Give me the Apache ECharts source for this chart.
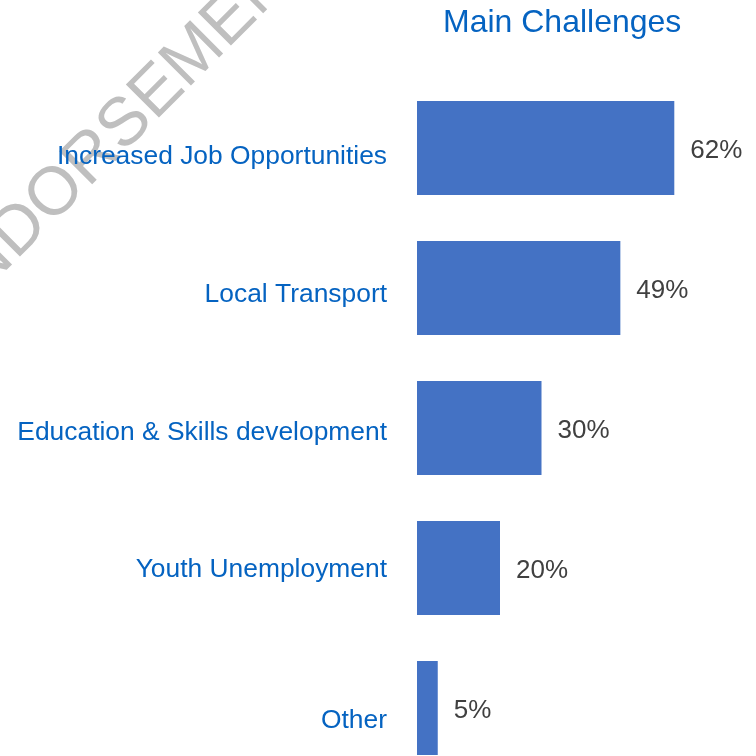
<!DOCTYPE html>
<html>
<head>
<meta charset="utf-8">
<script src="https://cdn.jsdelivr.net/npm/echarts@6/dist/echarts.min.js"></script>
<style>
  html, body { margin: 0; padding: 0; background: #ffffff; overflow: hidden; }
  /* the canvas runs past the bottom of the window so the last bar is cut off */
  #chart { width: 756px; height: 800px; }
</style>
</head>
<body>
<div id="chart"></div>
<script>
// Survey answers, percent of respondents
const chartTitle = 'Main Challenges';
const categories = [
  'Increased Job Opportunities',
  'Local Transport',
  'Education & Skills development',
  'Youth Unemployment',
  'Other'
];
const shares = [62, 49, 30, 20, 5];
const watermarkText = 'ENDORSEMENT';

const FONT = '"Liberation Sans", Arial, sans-serif';
const BLUE_TEXT = '#0563C1';
const BAR_BLUE = '#4472C4';

// small downward nudges (px) for the hand-placed category captions
const captionShift = [9, 7, 5, 2, 13];
const captionRich = {};
captionShift.forEach((d, i) => {
  captionRich['c' + i] = {
    fontFamily: FONT,
    fontSize: 26.4,
    color: BLUE_TEXT,
    padding: [d * 2, 0, 0, 0]
  };
});

const chart = echarts.init(document.getElementById('chart'), null, { renderer: 'canvas' });

chart.setOption({
  animation: false,
  backgroundColor: '#ffffff',
  title: {
    text: chartTitle,
    left: 443,
    top: 7,
    padding: 0,
    textStyle: { fontFamily: FONT, fontSize: 32, fontWeight: 'normal', color: BLUE_TEXT }
  },
  grid: {
    left: 417,
    top: 78,
    width: 332,
    height: 700,
    containLabel: false
  },
  xAxis: {
    type: 'value',
    min: 0,
    max: 80,
    show: false
  },
  yAxis: {
    type: 'category',
    data: categories,
    inverse: true,
    axisLine: { show: false },
    axisTick: { show: false },
    splitLine: { show: false },
    axisLabel: {
      margin: 30,
      fontFamily: FONT,
      fontSize: 26.4,
      color: BLUE_TEXT,
      formatter: (value, index) => '{c' + index + '|' + value + '}',
      rich: captionRich
    }
  },
  series: [{
    type: 'bar',
    data: shares,
    barCategoryGap: '33%',
    itemStyle: { color: BAR_BLUE },
    label: {
      show: true,
      position: 'right',
      distance: 16,
      offset: [0, 3],
      fontFamily: FONT,
      fontSize: 26,
      color: '#404040',
      formatter: p => p.value + '%'
    }
  }],
  graphic: [{
    type: 'text',
    x: 123,
    y: 127,
    rotation: Math.PI / 4,
    z: -10,
    silent: true,
    style: {
      text: watermarkText,
      fontFamily: FONT,
      fontSize: 68,
      fill: '#BFBFBF',
      align: 'center',
      verticalAlign: 'middle'
    }
  }]
});
</script>
</body>
</html>
